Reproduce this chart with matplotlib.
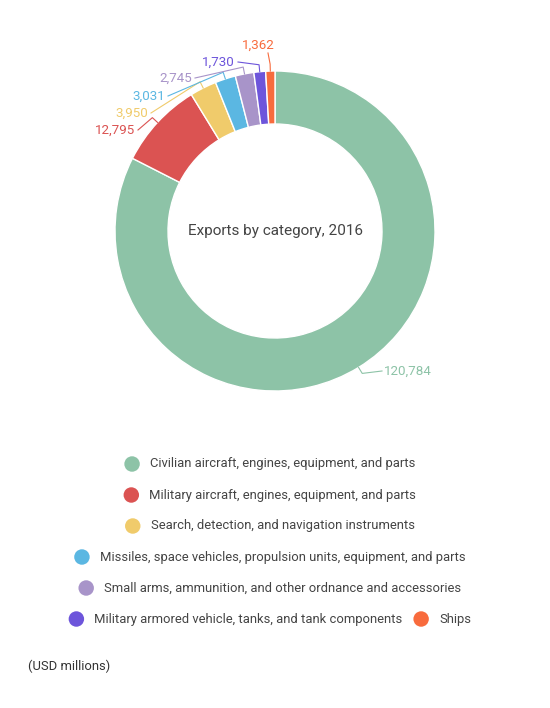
import matplotlib
matplotlib.use("Agg")
import matplotlib.pyplot as plt
import numpy as np

plt.rcParams['font.family'] = ['Roboto', 'DejaVu Sans']

# data
categories = [
    "Civilian aircraft, engines, equipment, and parts",
    "Military aircraft, engines, equipment, and parts",
    "Search, detection, and navigation instruments",
    "Missiles, space vehicles, propulsion units, equipment, and parts",
    "Small arms, ammunition, and other ordnance and accessories",
    "Military armored vehicle, tanks, and tank components",
    "Ships",
]
values = [120784, 12795, 3950, 3031, 2745, 1730, 1362]
colors = ["#8DC3A7", "#DB5352", "#F0CB6B", "#5BB7E2", "#A894C9", "#6D55DB", "#F86B3D"]
legend_rows = [[0], [1], [2], [3], [4], [5, 6]]

W, H = 550, 708
cx, cy = 275, 231          # donut centre in screen pixels (y down)
r_out, ring = 160, 53

# label text anchors (screen px) and alignment, layout only
label_pos = [(384, 371, "left"), (135, 130, "right"), (148, 113, "right"),
             (165, 96, "right"), (192, 78, "right"), (235, 62, "right"),
             (258, 45, "center")]


def sy(y):
    return H - y


def main():
    fig = plt.figure(figsize=(W / 100, H / 100), dpi=100)
    ax = fig.add_axes([0, 0, 1, 1])

    wedges, _ = ax.pie(values, colors=colors, startangle=90, counterclock=False,
                       center=(cx, sy(cy)), radius=r_out, frame=True,
                       wedgeprops=dict(width=ring, edgecolor="white", linewidth=1))
    ax.set_xlim(0, W)
    ax.set_ylim(0, H)
    ax.set_aspect("equal")
    ax.axis("off")

    ax.text(cx, sy(cy), "Exports by category, 2016", ha="center", va="center",
            fontsize=11, color="#444444")

    # value labels with leader lines
    for w, v, c, (lx, ly, ha) in zip(wedges, values, colors, label_pos):
        ang = np.deg2rad((w.theta1 + w.theta2) / 2)
        ex, ey = cx + r_out * np.cos(ang), sy(cy) + r_out * np.sin(ang)
        bx, by = cx + (r_out + 7) * np.cos(ang), sy(cy) + (r_out + 7) * np.sin(ang)
        if ha == "left":
            tx, ty = lx - 2, sy(ly)
        elif ha == "right":
            tx, ty = lx + 3, sy(ly)
        else:
            tx, ty = lx + 10, sy(ly + 8)
        ax.plot([ex, bx, tx], [ey, by, ty], color=c, lw=0.8)
        ax.text(lx, sy(ly), f"{v:,}", ha=ha, va="center", fontsize=9.6, color=c)

    # legend, centred rows
    fig.canvas.draw()
    renderer = fig.canvas.get_renderer()
    row_y = [464, 495, 526, 557, 588, 619]
    for ry, row in zip(row_y, legend_rows):
        texts = []
        widths = []
        for i in row:
            t = ax.text(0, sy(ry), categories[i], ha="left", va="center",
                        fontsize=9.4, color="#444444")
            bb = t.get_window_extent(renderer)
            texts.append(t)
            widths.append(bb.width)
        item_w = [25.5 + tw for tw in widths]
        total = sum(item_w) + 11 * (len(row) - 1)
        x = 270 - total / 2
        for i, t, iw in zip(row, texts, item_w):
            ax.scatter([x + 7.5], [sy(ry)], s=15 ** 2 * 0.55, color=colors[i],
                       edgecolors="none")
            t.set_position((x + 25.5, sy(ry)))
            x += iw + 11

    ax.text(28, sy(666), "(USD millions)", ha="left", va="center",
            fontsize=9.4, color="#333333")

    fig.savefig("out.png", dpi=100)


if __name__ == "__main__":
    main()
